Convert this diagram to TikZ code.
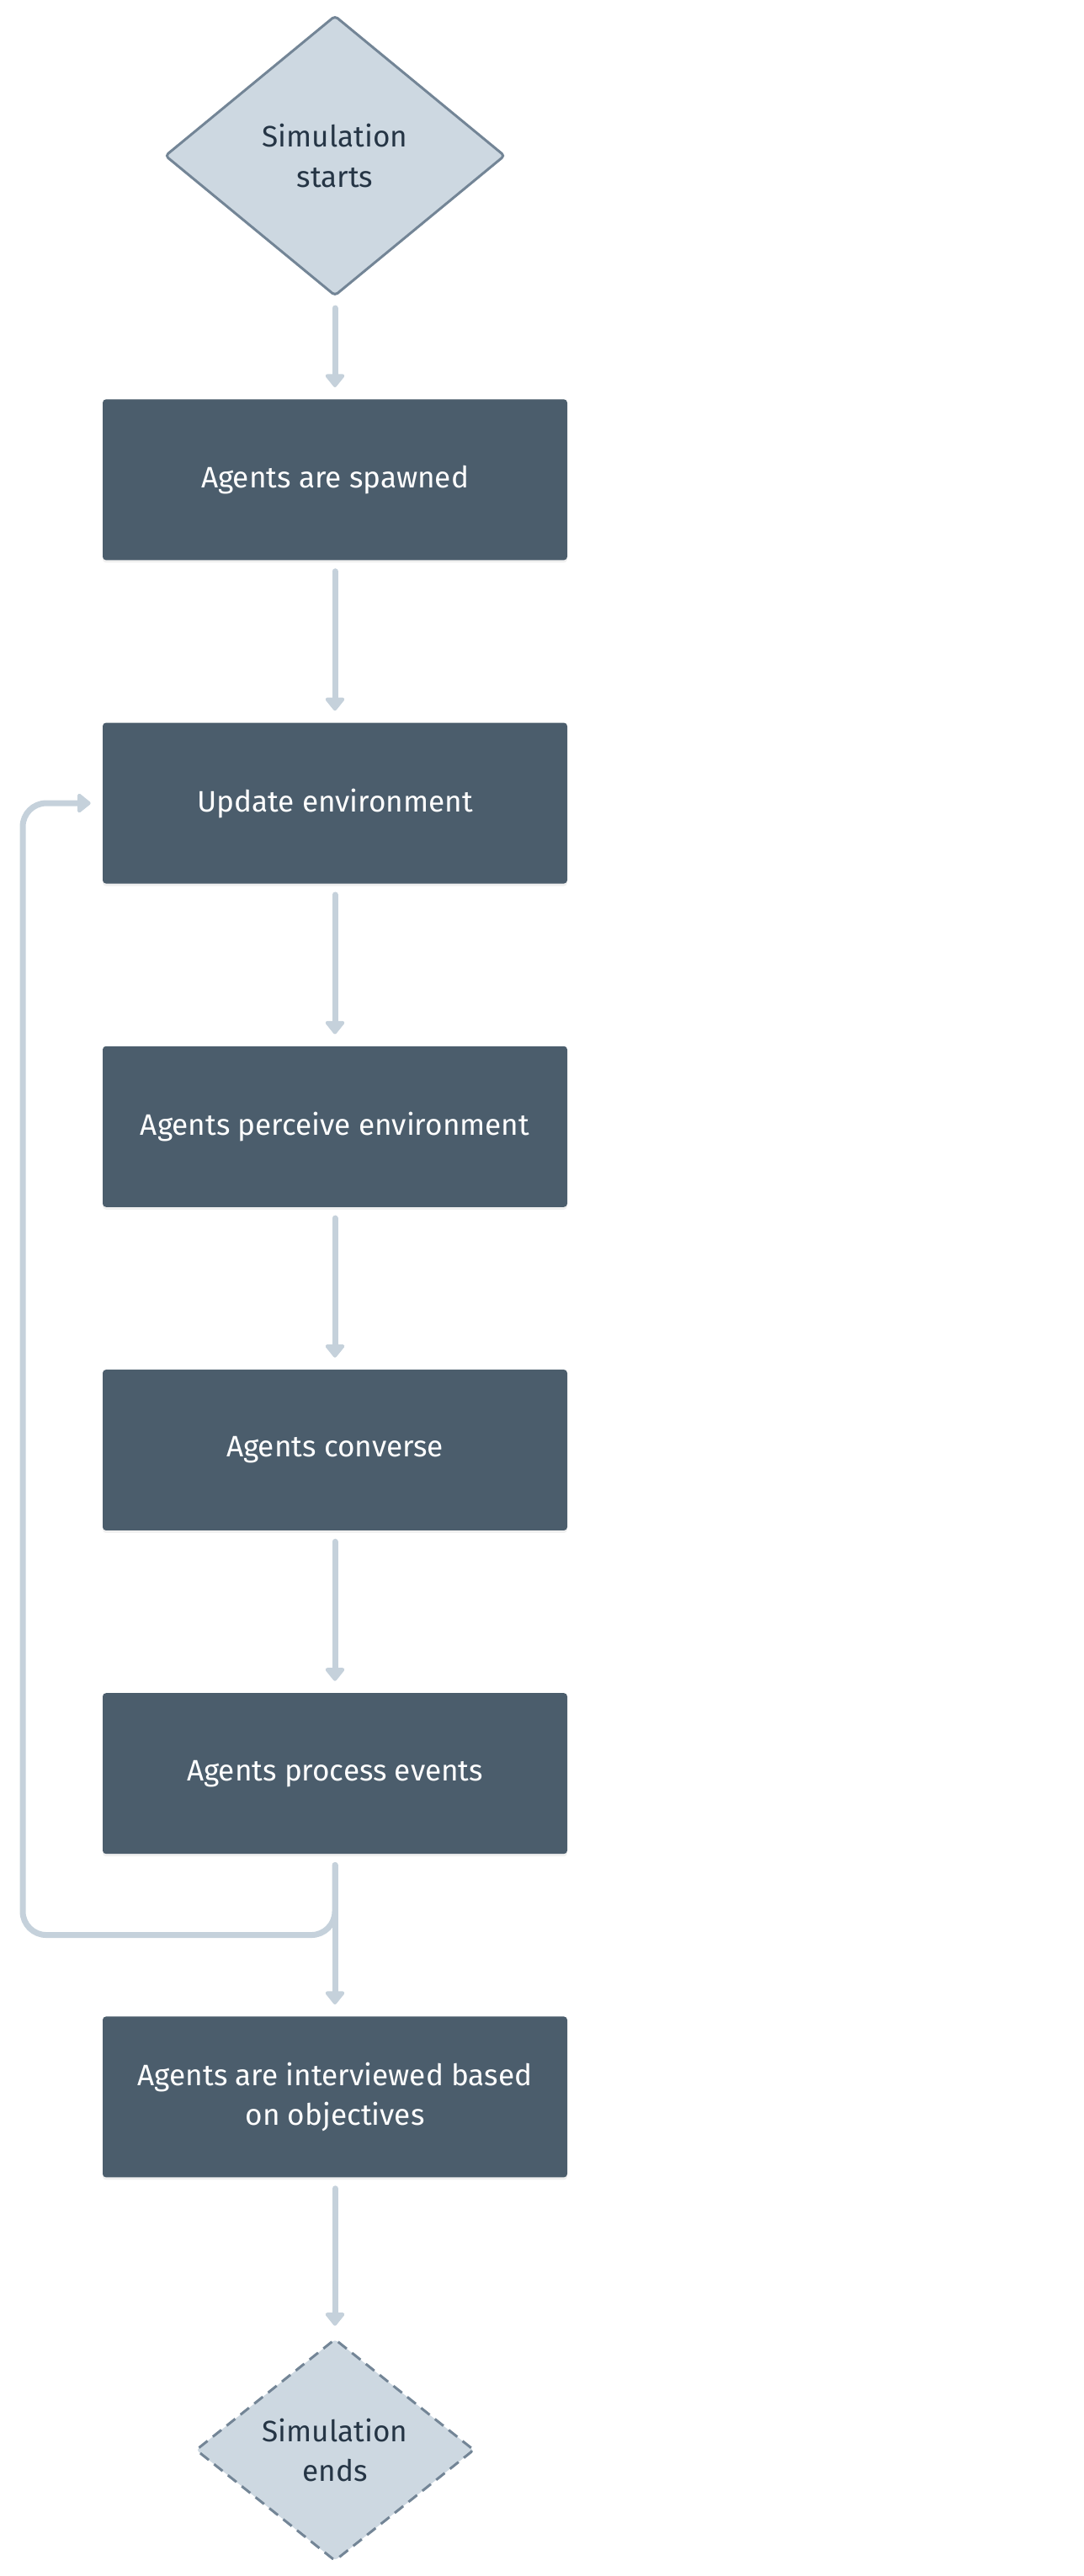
\documentclass[tikz,border=0pt]{standalone}
\usepackage{fontspec}
\setmainfont{Fira Sans}
\usetikzlibrary{positioning, arrows.meta, shapes.geometric, shadows}

\definecolor{flowline}{HTML}{C5D1DB}
\definecolor{boxfill}{HTML}{4B5D6C}
\definecolor{termfill}{HTML}{CDD8E1}
\definecolor{termline}{HTML}{738596}
\definecolor{termtext}{HTML}{253545}

\begin{document}
\begin{tikzpicture}[node distance=3.85cm, >={Triangle[width=0.52cm, length=0.34cm, round]},
	stepbox/.style={rectangle, fill=boxfill, rounded corners=0.08cm, minimum width=11.04cm, minimum height=3.82cm, text=white, align=center, font=\fontsize{20}{27}\selectfont, drop shadow={shadow xshift=0cm, shadow yshift=-0.06cm, opacity=0.12}},
	terminal/.style={diamond, draw=termline, line width=0.06cm, fill=termfill, rounded corners=0.08cm, inner sep=0pt, text=termtext, align=center, font=\fontsize{20}{27}\selectfont},
	flow/.style={->, draw=flowline, line width=0.14cm, line cap=round, shorten <=0.26cm, shorten >=0.28cm}]
	
	\useasboundingbox (0,0) rectangle (25.76,-61.2);
	
	% Define nodes
	\node [terminal, minimum width=8.08cm, minimum height=6.66cm] (start) at (7.96,-3.70) {Simulation\\starts};
	\node [stepbox, below=2.42cm of start] (spawn) {Agents are spawned};
	\node [stepbox, below=of spawn] (update) {Update environment};
	\node [stepbox, below=of update] (perceive) {Agents perceive environment};
	\node [stepbox, below=of perceive] (converse) {Agents converse};
	\node [stepbox, below=of converse] (process) {Agents process events};
	\node [stepbox, below=of process] (interview) {Agents are interviewed based\\on objectives};
	\node [terminal, dash pattern=on 0.26cm off 0.16cm, minimum width=6.62cm, minimum height=5.28cm, below=3.8cm of interview] (finish) {Simulation\\ends};
	
	% Arrows between blocks
	\draw[flow] (start) -- (spawn);
	\draw[flow] (spawn) -- (update);
	\draw[flow] (update) -- (perceive);
	\draw[flow] (perceive) -- (converse);
	\draw[flow] (converse) -- (process);
	\draw[flow] (process) -- (interview);
	\draw[flow] (interview) -- (finish);
	
	% Loop back to the environment update
	\draw[flow, rounded corners=0.56cm] (process.south) |- ++(-7.42,-1.92) |- (update.west);
\end{tikzpicture}
\end{document}
